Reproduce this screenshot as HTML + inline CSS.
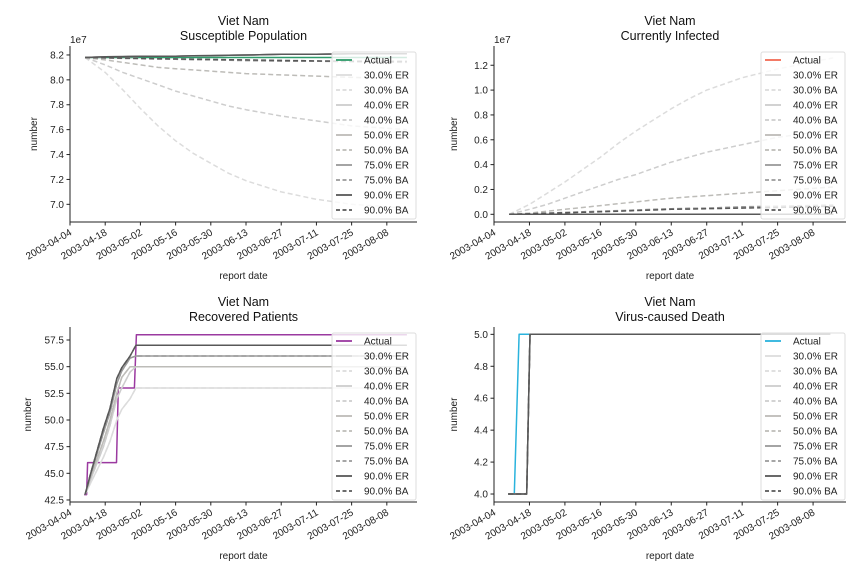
<!DOCTYPE html>
<html><head><meta charset="utf-8"><style>
body{margin:0;background:#fff;}
svg{display:block;font-family:"Liberation Sans","DejaVu Sans",sans-serif;}
</style></head><body>
<svg id="chart" width="864" height="576" viewBox="0 0 864 576" xmlns="http://www.w3.org/2000/svg"></svg>
<script>
// ---- data ----
const tickLabels = ["2003-04-04","2003-04-18","2003-05-02","2003-05-16","2003-05-30","2003-06-13","2003-06-27","2003-07-11","2003-07-25","2003-08-08"];
const tickDays = [0,14,28,42,56,70,84,98,112,126];
const seriesNames = ["30.0% ER","30.0% BA","40.0% ER","40.0% BA","50.0% ER","50.0% BA","75.0% ER","75.0% BA","90.0% ER","90.0% BA"];
// Susceptible (1e7)
const susDays = [6,14,21,28,35,42,49,56,63,70,84,98,112,134];
const susActual = [8.18,8.18,8.18,8.18,8.18,8.18,8.18,8.18,8.18,8.18,8.18,8.18,8.18,8.18];
const susER = [8.18,8.185,8.187,8.19,8.19,8.19,8.193,8.195,8.197,8.20,8.205,8.205,8.21,8.21];
const susBA30 = [8.18,8.06,7.92,7.77,7.63,7.51,7.41,7.33,7.25,7.19,7.10,7.04,7.00,6.97];
const susBA40 = [8.18,8.12,8.06,8.01,7.96,7.91,7.87,7.83,7.79,7.76,7.71,7.67,7.63,7.60];
const susBA50 = [8.18,8.16,8.14,8.12,8.10,8.09,8.08,8.07,8.06,8.05,8.04,8.03,8.02,8.01];
const susBA75 = [8.18,8.175,8.172,8.17,8.167,8.165,8.162,8.16,8.157,8.155,8.15,8.15,8.145,8.14];
const susBA90 = [8.18,8.178,8.175,8.172,8.17,8.168,8.166,8.164,8.162,8.16,8.156,8.152,8.15,8.148];
// Infected (1e7)
const infDays = [6,14,21,28,35,42,49,56,63,70,77,84,98,112,134];
const infActual = [0,0,0,0,0,0,0,0,0,0,0,0,0,0,0];
const infER = [0,0,0,0,0,0,0,0,0,0,0,0,0,0,0];
const infBA30 = [0,0.08,0.17,0.26,0.36,0.46,0.57,0.67,0.76,0.85,0.93,1.00,1.10,1.17,1.26];
const infBA40 = [0,0.04,0.08,0.13,0.18,0.23,0.28,0.32,0.37,0.42,0.46,0.50,0.56,0.62,0.68];
const infBA50 = [0,0.01,0.025,0.04,0.055,0.07,0.085,0.10,0.115,0.13,0.14,0.15,0.17,0.19,0.22];
const infBA75 = [0,0.005,0.01,0.015,0.02,0.025,0.03,0.035,0.04,0.045,0.048,0.05,0.06,0.065,0.075];
const infBA90 = [0,0.004,0.008,0.012,0.016,0.02,0.025,0.03,0.035,0.04,0.042,0.045,0.05,0.055,0.065];
// Recovered
const recActualDays = [5.6,6.6,7.0,18.5,19.2,25.6,26.4,134];
const recActual = [43,43,46,46,53,53,58,58];
const recDays = [6,8,13.3,15.9,18.6,20.6,23.9,26.2,134];
const rec30 = [43,44,46.5,48,50,51,52,53,53];
const rec40 = [43,44.3,47.5,49.5,52,53,54.5,55,55];
const rec50 = [43,44.5,48,50,52.5,54,55,55,55];
const rec75 = [43,44.7,48.8,50.7,53.4,54.6,55.8,56,56];
const rec90 = [43,44.8,49.2,51.1,53.9,54.9,56,57,57];
// Deaths
const deathActualDays = [5.6,8.0,9.9,132.8];
const deathActual = [4,4,5,5];
const deathDays = [5.6,12.9,14.2,132.8];
const deathModel = [4,4,5,5];

const grays = {"30":"#dcdcdc","40":"#cdcdcd","50":"#bdbcb8","75":"#9a9a9a","90":"#585858"};
const NS="http://www.w3.org/2000/svg";
const svg=document.getElementById('chart');
function el(tag,attrs,parent){const e=document.createElementNS(NS,tag);for(const k in attrs)e.setAttribute(k,attrs[k]);(parent||svg).appendChild(e);return e;}
function txt(s,attrs,parent){const t=el('text',attrs,parent);t.textContent=s;return t;}

function panel(cfg){
  const g=el('g',{});
  
  
  const {x0,x1,y0,y1,dmax,ymin,ymax}=cfg;
  const sx=d=>x0+(d/dmax)*(x1-x0);
  const sy=v=>y1-(v-ymin)/(ymax-ymin)*(y1-y0);
  const cx=(x0+x1)/2;
  const t1=txt('Viet Nam',{x:cx,y:y0-21,'text-anchor':'middle','font-size':12.5,fill:'#111'},g);
  
  
  const t2=txt(cfg.title,{x:cx,y:y0-6,'text-anchor':'middle','font-size':12.5,fill:'#111'},g);
  
  
  cfg.series.forEach(s=>{
    const pts=s.days.map((d,i)=>sx(d).toFixed(1)+','+sy(s.vals[i]).toFixed(1)).join(' ');
    const p=el('polyline',{points:pts,fill:'none',stroke:s.color,'stroke-width':1.5,'stroke-dasharray':s.dash?'5,3':'none','stroke-linejoin':'round'},g);
    
    
  });
  const ax=el('line',{x1:x0,y1:y0,x2:x0,y2:y1,stroke:'#222','stroke-width':1},g);
  
  
  const bx=el('line',{x1:x0,y1:y1,x2:x1,y2:y1,stroke:'#222','stroke-width':1},g);
  
  
  tickDays.forEach((d,i)=>{
    const x=sx(d);
    el('line',{x1:x,y1:y1,x2:x,y2:y1+3.5,stroke:'#222'},g);
    const t=txt(tickLabels[i],{x:x,y:y1+13,'text-anchor':'end','font-size':10,fill:'#222',transform:`rotate(-30 ${x} ${y1+8})`},g);
    
    
  });
  cfg.yticks.forEach(v=>{
    const y=sy(v);
    el('line',{x1:x0-3.5,y1:y,x2:x0,y2:y,stroke:'#222'},g);
    const t=txt(v.toFixed(cfg.dec),{x:x0-6,y:y+3.5,'text-anchor':'end','font-size':10,fill:'#222'},g);
    
    
  });
  if(cfg.exp){const e=txt('1e7',{x:x0,y:y0-3,'font-size':10,fill:'#222'},g);
    
    }
  const yl=txt('number',{x:x0-cfg.ylOff,y:(y0+y1)/2,'text-anchor':'middle','font-size':10,fill:'#222',transform:`rotate(-90 ${x0-cfg.ylOff} ${(y0+y1)/2})`},g);
  
  
  const xl=txt('report date',{x:cx,y:y1+57,'text-anchor':'middle','font-size':10,fill:'#222'},g);
  
  
  const lx=x1-85, ly=y0+6;
  const lg=el('g',{},g);
  
  
  el('rect',{x:lx,y:ly,width:84,height:167,rx:2,fill:'rgba(255,255,255,0.8)',stroke:'#ddd'},lg);
  const entries=[{n:'Actual',c:cfg.actualColor,dash:false}].concat(seriesNames.map(n=>({n:n,c:grays[n.slice(0,2)],dash:n.endsWith('BA')})));
  entries.forEach((en,i)=>{
    const y=ly+8+15*i;
    const le=el('g',{},lg);
    
    
    el('line',{x1:lx+4,y1:y,x2:lx+20,y2:y,stroke:en.c,'stroke-width':1.8,'stroke-dasharray':en.dash?'4,2.5':'none'},le);
    txt(en.n,{x:lx+32,y:y+3.5,'font-size':10,fill:'#222'},le);
  });
}
function mk(days,vals,pct,dash){return {days:days,vals:vals,color:grays[pct],dash:dash};}

panel({name:'susceptible-panel',title:'Susceptible Population',x0:70,x1:417,y0:46,y1:222,dmax:138,ymin:6.858,ymax:8.272,yticks:[7.0,7.2,7.4,7.6,7.8,8.0,8.2],dec:1,exp:true,ylOff:33,actualColor:'#2e9b6a',
 series:[{days:susDays,vals:susActual,color:'#2e9b6a',dash:false},
  mk(susDays,susER,'30',false),mk(susDays,susBA30,'30',true),mk(susDays,susER,'40',false),mk(susDays,susBA40,'40',true),
  mk(susDays,susER,'50',false),mk(susDays,susBA50,'50',true),mk(susDays,susER,'75',false),mk(susDays,susBA75,'75',true),
  mk(susDays,susER,'90',false),mk(susDays,susBA90,'90',true)]});
panel({name:'infected-panel',title:'Currently Infected',x0:494,x1:846,y0:46,y1:222,dmax:139,ymin:-0.062,ymax:1.355,yticks:[0,0.2,0.4,0.6,0.8,1.0,1.2],dec:1,exp:true,ylOff:37,actualColor:'#f26b56',
 series:[{days:infDays,vals:infActual,color:'#f26b56',dash:false},
  mk(infDays,infER,'30',false),mk(infDays,infBA30,'30',true),mk(infDays,infER,'40',false),mk(infDays,infBA40,'40',true),
  mk(infDays,infER,'50',false),mk(infDays,infBA50,'50',true),mk(infDays,infER,'75',false),mk(infDays,infBA75,'75',true),
  mk(infDays,infER,'90',false),mk(infDays,infBA90,'90',true)]});
panel({name:'recovered-panel',title:'Recovered Patients',x0:70,x1:417,y0:327,y1:502,dmax:138,ymin:42.31,ymax:58.72,yticks:[42.5,45,47.5,50,52.5,55,57.5],dec:1,exp:false,ylOff:39,actualColor:'#9b3aa0',
 series:[{days:recActualDays,vals:recActual,color:'#9b3aa0',dash:false},
  mk(recDays,rec30,'30',false),mk(recDays,rec30,'30',true),mk(recDays,rec40,'40',false),mk(recDays,rec40,'40',true),
  mk(recDays,rec50,'50',false),mk(recDays,rec50,'50',true),mk(recDays,rec75,'75',false),mk(recDays,rec75,'75',true),
  mk(recDays,rec90,'90',false),mk(recDays,rec90,'90',true)]});
panel({name:'death-panel',title:'Virus-caused Death',x0:494,x1:846,y0:327,y1:502,dmax:139,ymin:3.95,ymax:5.046,yticks:[4.0,4.2,4.4,4.6,4.8,5.0],dec:1,exp:false,ylOff:37,actualColor:'#2ab3dd',
 series:[{days:deathActualDays,vals:deathActual,color:'#2ab3dd',dash:false},
  mk(deathDays,deathModel,'30',false),mk(deathDays,deathModel,'30',true),mk(deathDays,deathModel,'40',false),mk(deathDays,deathModel,'40',true),
  mk(deathDays,deathModel,'50',false),mk(deathDays,deathModel,'50',true),mk(deathDays,deathModel,'75',false),mk(deathDays,deathModel,'75',true),
  mk(deathDays,deathModel,'90',false),mk(deathDays,deathModel,'90',true)]});
</script>
</body></html>
